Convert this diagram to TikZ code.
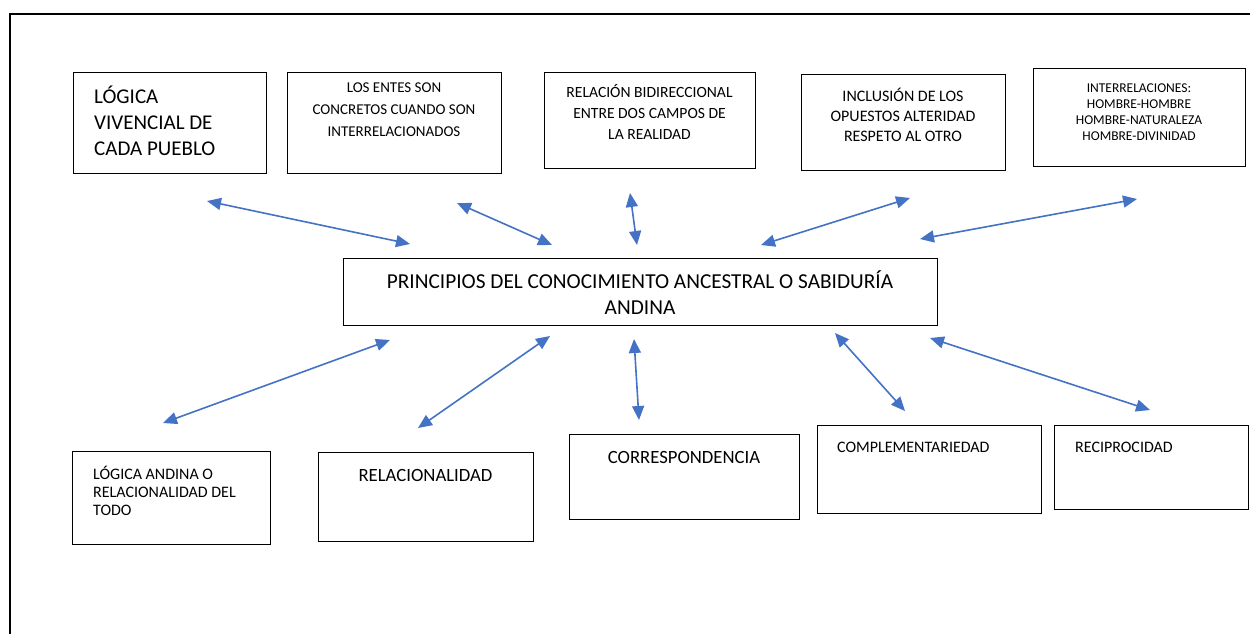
\documentclass[tikz,border=0pt]{standalone}
\usepackage{fontspec}
\setmainfont{Carlito}
\usetikzlibrary{arrows.meta}
\definecolor{arrowblue}{HTML}{4472C4}
\begin{document}
\begin{tikzpicture}[x=1pt,y=-1pt,
  box/.style={draw=black, line width=1.2pt, inner sep=0pt, anchor=north west},
  txt/.style={inner sep=0pt, text=black},
  frame/.style={draw=black, line width=1.2pt},
  link/.style={draw=arrowblue, line width=1.6pt,
    {Triangle[length=14pt,width=12pt]}-{Triangle[length=14pt,width=12pt]}}]
\useasboundingbox (0,0) rectangle (1250,633);
\fill[white] (0,0) rectangle (1250,633);
% outer frame
\coordinate (fbl) at (10,640);
\coordinate (ftl) at (10,14);
\coordinate (ftr) at (1260,14);
\draw[frame] (fbl) -- (ftl) -- (ftr);

% top row boxes
\node[box, minimum width=193pt, minimum height=101pt] (t1) at (73,72) {};
\node[txt, anchor=west, align=left, font=\fontsize{21}{26}\selectfont] (t1t) at (94,120.6) {LÓGICA\\VIVENCIAL DE\\CADA PUEBLO};
\node[box, minimum width=214pt, minimum height=101pt] (t2) at (287,72) {};
\node[txt, align=center, font=\fontsize{15}{22}\selectfont] (t2t) at (394,110) {LOS ENTES SON\\CONCRETOS CUANDO SON\\INTERRELACIONADOS};
\node[box, minimum width=211pt, minimum height=96pt] (t3) at (544,72) {};
\node[txt, align=center, font=\fontsize{15.6}{21}\selectfont] (t3t) at (649.5,112) {RELACIÓN BIDIRECCIONAL\\ENTRE DOS CAMPOS DE\\LA REALIDAD};
\node[box, minimum width=204pt, minimum height=96pt] (t4) at (801,74) {};
\node[txt, align=center, font=\fontsize{16}{20}\selectfont] (t4t) at (903,114.7) {INCLUSIÓN DE LOS\\OPUESTOS ALTERIDAD\\RESPETO AL OTRO};
\node[box, minimum width=212pt, minimum height=98pt] (t5) at (1033,68) {};
\node[txt, align=center, font=\fontsize{13.5}{15.9}\selectfont] (t5t) at (1139,112) {INTERRELACIONES:\\HOMBRE-HOMBRE\\HOMBRE-NATURALEZA\\HOMBRE-DIVINIDAD};

% central box
\node[box, minimum width=594pt, minimum height=67pt] (c) at (343,258) {};
\node[txt, align=center, font=\fontsize{21.3}{26}\selectfont] (ct) at (640,293) {PRINCIPIOS DEL CONOCIMIENTO ANCESTRAL O SABIDURÍA\\ANDINA};

% bottom row boxes
\node[box, minimum width=198pt, minimum height=93pt] (b1) at (72,451) {};
\node[txt, anchor=west, align=left, font=\fontsize{16}{18.3}\selectfont] (b1t) at (93,491) {LÓGICA ANDINA O\\RELACIONALIDAD DEL\\TODO};
\node[box, minimum width=215pt, minimum height=89pt] (b2) at (318,452) {};
\node[txt, font=\fontsize{18.7}{20}\selectfont] (b2t) at (425.5,475) {RELACIONALIDAD};
\node[box, minimum width=230pt, minimum height=85pt] (b3) at (569,434) {};
\node[txt, font=\fontsize{18.7}{20}\selectfont] (b3t) at (684,457) {CORRESPONDENCIA};
\node[box, minimum width=224pt, minimum height=88pt] (b4) at (817,425) {};
\node[txt, anchor=west, font=\fontsize{16}{18}\selectfont] (b4t) at (837,447) {COMPLEMENTARIEDAD};
\node[box, minimum width=194pt, minimum height=84pt] (b5) at (1054,425) {};
\node[txt, anchor=west, font=\fontsize{16}{18}\selectfont] (b5t) at (1075,447) {RECIPROCIDAD};

% arrow end points
\coordinate (a1s) at (207,201); \coordinate (a1e) at (410,244);
\coordinate (a2s) at (457,203); \coordinate (a2e) at (552,245);
\coordinate (a3s) at (630,193); \coordinate (a3e) at (637,245);
\coordinate (a4s) at (910,198); \coordinate (a4e) at (761,245);
\coordinate (a5s) at (1137,199); \coordinate (a5e) at (920,239);
\coordinate (b1s) at (390,340); \coordinate (b1e) at (163,423);
\coordinate (b2s) at (550,336); \coordinate (b2e) at (418,428);
\coordinate (b3s) at (634,339); \coordinate (b3e) at (639,420);
\coordinate (b4s) at (835,333); \coordinate (b4e) at (905,411);
\coordinate (b5s) at (930,338); \coordinate (b5e) at (1150,410);

\draw[link] (a1s) -- (a1e);
\draw[link] (a2s) -- (a2e);
\draw[link] (a3s) -- (a3e);
\draw[link] (a4s) -- (a4e);
\draw[link] (a5s) -- (a5e);
\draw[link] (b1s) -- (b1e);
\draw[link] (b2s) -- (b2e);
\draw[link] (b3s) -- (b3e);
\draw[link] (b4s) -- (b4e);
\draw[link] (b5s) -- (b5e);
\end{tikzpicture}
\end{document}
